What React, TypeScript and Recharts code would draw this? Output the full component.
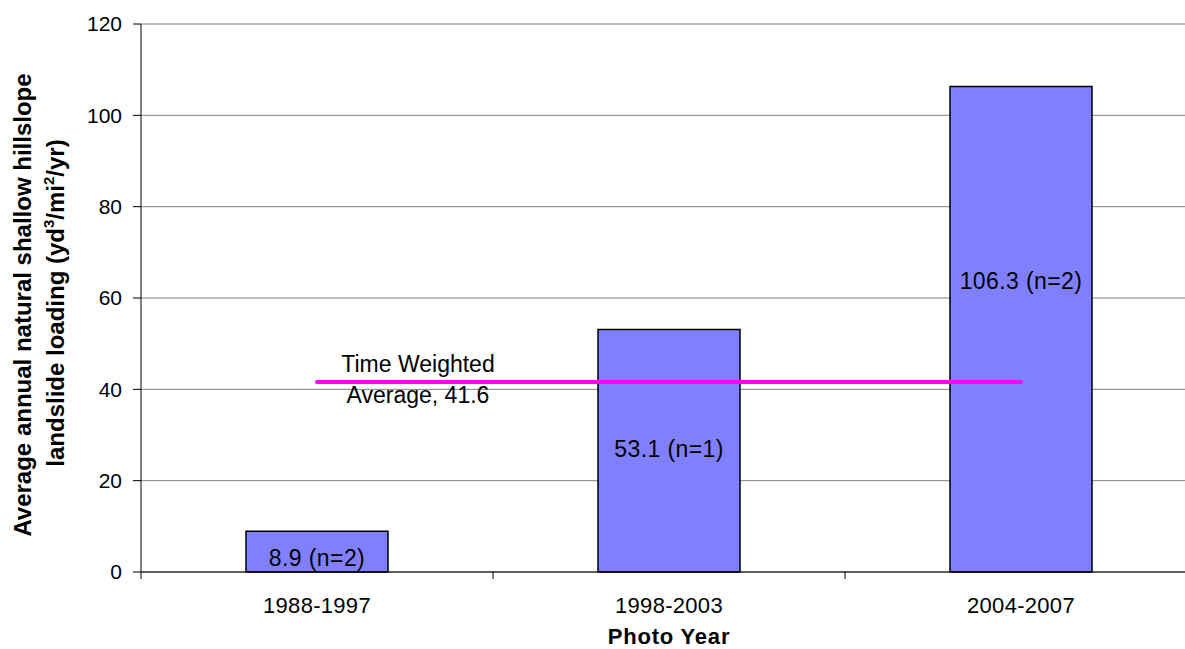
import { ComposedChart, Bar, Line, XAxis, YAxis, CartesianGrid, LabelList } from 'recharts';

const periods = ['1988-1997', '1998-2003', '2004-2007'];
const loading = [8.9, 53.1, 106.3];
const sampleCounts = [2, 1, 2];
const timeWeightedAvg = [41.6, 41.6, 41.6];
const yTicks = [0, 20, 40, 60, 80, 100, 120];

// excel placed the labels by hand, so nudge them a bit
const labelShift = [6.5, -2, -48];

const FONT = '"Liberation Sans", Arial, sans-serif';

const data = periods.map((p, i) => ({
  period: p,
  value: loading[i],
  n: sampleCounts[i],
  avg: timeWeightedAvg[i],
}));

// tick label at the band centre, tick marks on the band edges (excel style)
const PeriodTick = (props: any) => {
  const { x, y, payload, index } = props;
  const half = payload.offset ?? 176;
  const isLast = index === periods.length - 1;
  return (
    <g>
      <line x1={x - half} x2={x - half} y1={y} y2={y + 7} stroke="#000" />
      {isLast && <line x1={x + half} x2={x + half} y1={y} y2={y + 7} stroke="#000" />}
      <text x={x} y={y} dy={41} textAnchor="middle" fill="#000" fontSize={22} letterSpacing={0.3}>
        {payload.value}
      </text>
    </g>
  );
};

const BarValueLabel = (props: any) => {
  const { x, y, width, height, index } = props;
  const d = data[index];
  return (
    <text
      x={x + width / 2}
      y={y + height / 2 + labelShift[index]}
      textAnchor="middle"
      dominantBaseline="central"
      fill="#000"
      fontSize={23}
      letterSpacing={0.4}
    >
      {`${d.value} (n=${d.n})`}
    </text>
  );
};

const AvgLabel = (props: any) => {
  const { x, y, index, value } = props;
  if (index !== 0) return null;
  return (
    <g>
      <text x={x + 101} y={y - 10} textAnchor="middle" fill="#000" fontSize={23}>
        Time Weighted
      </text>
      <text x={x + 101} y={y + 21} textAnchor="middle" fill="#000" fontSize={23}>
        {`Average, ${value}`}
      </text>
    </g>
  );
};

const App = () => {
  return (
    <div
      style={{
        position: 'fixed',
        left: 0,
        top: 0,
        width: 1185,
        height: 649,
        overflow: 'hidden',
        background: '#fff',
        fontFamily: FONT,
      }}
    >
      <ComposedChart
        width={1210}
        height={649}
        data={data}
        margin={{ top: 24, right: 13, left: 0, bottom: 0 }}
      >
        <CartesianGrid vertical={false} stroke="#808080" strokeWidth={1} />
        <XAxis
          dataKey="period"
          tick={PeriodTick}
          tickSize={0}
          tickMargin={0}
          axisLine={{ stroke: '#000' }}
          tickLine={false}
          interval={0}
          height={77}
        />
        <YAxis
          domain={[0, 120]}
          ticks={yTicks}
          width={141}
          tickSize={8}
          tickMargin={11}
          axisLine={{ stroke: '#000' }}
          tickLine={{ stroke: '#000' }}
          tick={{ fill: '#000', fontSize: 21 }}
        />
        <Bar dataKey="value" fill="#8080FF" stroke="#000" strokeWidth={1.5} barSize={142} isAnimationActive={false}>
          <LabelList dataKey="value" content={BarValueLabel} />
        </Bar>
        <Line
          dataKey="avg"
          stroke="#FF00FF"
          strokeWidth={4}
          strokeLinecap="round"
          dot={false}
          activeDot={false}
          isAnimationActive={false}
        >
          <LabelList dataKey="avg" content={AvgLabel} />
        </Line>
      </ComposedChart>
      <svg
        width={1185}
        height={649}
        style={{ position: 'absolute', left: 0, top: 0, pointerEvents: 'none' }}
      >
        <text
          transform="translate(31, 305) rotate(-90)"
          textAnchor="middle"
          fontWeight="bold"
          fontSize={24}
          fill="#000"
        >
          Average annual natural shallow hillslope
        </text>
        <text
          transform="translate(64, 303) rotate(-90)"
          textAnchor="middle"
          fontWeight="bold"
          fontSize={24}
          fill="#000"
        >
          landslide loading (yd
          <tspan fontSize={15} dy={-10}>3</tspan>
          <tspan dy={10}>/mi</tspan>
          <tspan fontSize={15} dy={-10}>2</tspan>
          <tspan dy={10}>/yr)</tspan>
        </text>
        <text x={669} y={644} textAnchor="middle" fontWeight="bold" fontSize={22} letterSpacing={0.8} fill="#000">
          Photo Year
        </text>
      </svg>
    </div>
  );
};

export default App;
